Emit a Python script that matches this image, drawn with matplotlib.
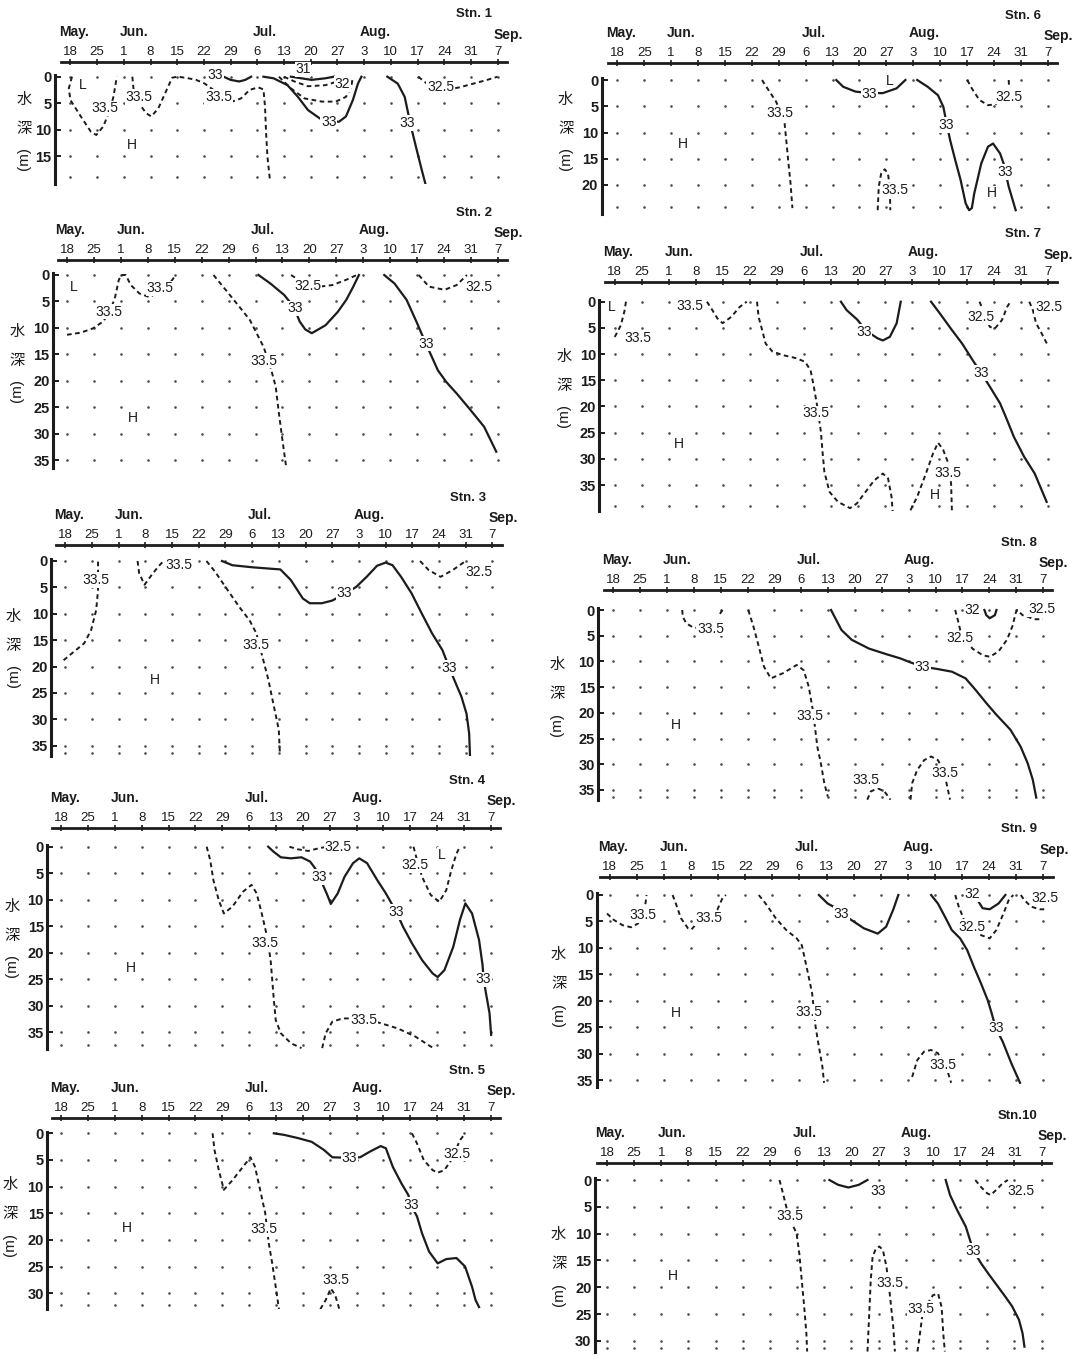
import matplotlib
matplotlib.use("Agg")
import matplotlib.pyplot as plt

plt.rcParams['font.family'] = ['Liberation Sans', 'Noto Sans CJK JP', 'DejaVu Sans']

W, H = 1076, 1356

# x axis: weeks counted from May 18 (0) to Sep 7 (16)
days = [18, 25, 1, 8, 15, 22, 29, 6, 13, 20, 27, 3, 10, 17, 24, 31, 7]
months = ["May.", "Jun.", "Jul.", "Aug.", "Sep."]
month_pos = [0.13, 2.39, 7.29, 11.4, 16.4]

# isohalines per station: (style, weeks, depth m)
stn1_lines = [
    ("--", [0.06, -0.06, 0.0, 0.39, 0.77, 0.97, 1.23, 1.48, 1.61, 1.74], [0, 2.2, 4.4, 7.5, 10.4, 11.0, 9.4, 6.3, 3.8, 0]),
    ("--", [2.32, 2.36, 2.52, 2.84, 3.03, 3.29, 3.55, 3.81, 4.0, 4.32, 4.71, 5.03, 5.5, 6.06, 6.39, 6.71, 7.03, 7.23, 7.29, 7.33, 7.38, 7.48],
           [0, 2.2, 4.7, 6.9, 7.5, 6.0, 3.1, 0.2, 0, 0.2, 0.6, 1.3, 3.0, 4.7, 4.1, 2.5, 2.0, 2.4, 5.7, 10.7, 15.1, 19.8]),
    ("-", [5.74, 6.0, 6.32, 6.55, 6.77], [0, 0.6, 0.9, 0.6, 0]),
    ("-", [7.23, 7.61, 8.13, 8.52, 8.9, 9.35, 9.7, 10.06, 10.32, 10.58, 10.77, 10.9], [0, 0.3, 1.6, 3.8, 6.3, 7.9, 8.4, 8.5, 7.5, 4.4, 1.3, 0]),
    ("-", [8.26, 8.65, 9.03, 9.55, 9.87], [0, 0.3, 0.6, 0.3, 0]),
    ("--", [8.0, 8.39, 8.9, 9.55, 10.0, 10.45], [0, 0.9, 1.8, 1.6, 0.9, 0]),
    ("--", [7.81, 8.26, 8.77, 9.42, 9.94, 10.32, 10.52, 10.58], [0, 2.2, 4.1, 4.7, 4.7, 3.8, 1.9, 0]),
    ("-", [11.87, 12.26, 12.52, 12.65, 12.77, 12.97, 13.16, 13.29], [0, 1.3, 3.8, 6.9, 9.7, 13.8, 17.6, 20.1]),
    ("--", [13.03, 13.35, 13.68, 14.06, 14.58, 15.1, 15.61, 16.0], [0, 1.3, 2.2, 2.5, 2.0, 1.3, 0.6, 0]),
]
stn1_labels = [("L", 0.45, 1.6), ("H", 2.32, 12.9), ("33.5", 1.29, 6.0), ("33.5", 2.58, 3.8), ("33", 5.42, -0.4),
               ("33.5", 5.55, 3.8), ("31", 8.71, -1.4), ("32", 10.19, 1.4), ("33", 9.68, 8.5), ("33", 12.6, 8.7),
               ("32.5", 13.87, 2.0)]

stn2_lines = [
    ("--", [0, 0.51, 0.96, 1.34, 1.6, 1.79, 1.92, 2.01, 2.18, 2.37, 2.69, 3.07, 3.46, 3.9, 4.03],
           [11.3, 10.9, 10.1, 8.8, 6.9, 4.1, 1.0, 0, 0, 1.9, 3.5, 4.2, 3.0, 1.0, 0]),
    ("--", [5.44, 5.89, 6.4, 6.79, 7.04, 7.3, 7.55, 7.75, 7.87, 8.0, 8.13], [0, 2.8, 6.0, 8.5, 11.0, 13.6, 17.3, 21.1, 26.2, 31.2, 36.0]),
    ("-", [7.11, 7.55, 8.07, 8.32, 8.5, 8.64, 8.85, 9.09, 9.6, 10.05, 10.37, 10.63, 10.84],
          [0, 1.6, 3.8, 5.4, 7.0, 8.8, 10.3, 11.0, 9.5, 7.0, 4.7, 2.2, 0]),
    ("--", [8.32, 8.71, 9.22, 9.86, 10.37, 10.76], [0, 1.3, 2.3, 1.9, 0.9, 0]),
    ("-", [11.78, 12.16, 12.61, 13.0, 13.32, 13.77, 14.08, 14.47, 14.98, 15.49, 15.94],
          [0, 1.6, 4.7, 9.1, 12.9, 18.0, 20.2, 22.4, 25.5, 28.7, 33.4]),
    ("--", [13.06, 13.44, 14.02, 14.47, 14.85], [0, 2.2, 2.8, 1.9, 0]),
]
stn2_labels = [("L", 0.26, 2.2), ("H", 2.43, 27.1), ("33.5", 1.54, 6.9), ("33.5", 3.46, 2.5), ("33.5", 7.3, 16.2),
               ("33", 8.48, 6.3), ("32.5", 8.95, 2.0), ("33", 13.32, 13.0), ("32.5", 15.3, 2.2)]

stn3_lines = [
    ("--", [-0.06, 0.32, 0.71, 0.97, 1.16, 1.23, 1.23], [18.8, 17.2, 15.6, 13.1, 9.3, 5.5, 0]),
    ("--", [2.71, 2.77, 2.97, 3.23, 3.48, 3.68], [0, 2.3, 4.5, 2.7, 1.1, 0]),
    ("--", [5.29, 5.61, 6.0, 6.52, 6.9, 7.16, 7.42, 7.61, 7.74, 7.87, 8.0, 8.04],
           [0, 2.0, 4.9, 8.7, 11.2, 13.7, 18.8, 22.5, 25.7, 28.8, 32.0, 36.4]),
    ("-", [5.87, 6.26, 7.03, 8.06, 8.45, 8.9, 9.16, 9.61, 10.0, 10.45, 10.9, 11.29, 11.68, 12.0, 12.26, 12.58, 12.97,
           13.35, 13.74, 14.13, 14.39, 14.58, 14.84, 15.03, 15.13, 15.16],
          [0, 0.8, 1.2, 1.6, 3.6, 7.1, 8.0, 8.0, 7.5, 6.3, 4.9, 3.0, 0.9, 0.3, 0.8, 3.0, 6.1, 9.9, 13.7, 16.9, 20.3,
           22.6, 25.7, 28.9, 32.7, 36.8]),
    ("--", [13.29, 13.61, 14.06, 14.52, 14.97], [0, 1.7, 3.0, 1.7, 0.1]),
]
stn3_labels = [("33.5", 1.16, 3.6), ("33.5", 4.26, 0.8), ("33.5", 7.16, 15.9), ("33", 10.45, 6.1), ("33", 14.39, 20.3),
               ("32.5", 15.48, 2.0), ("H", 3.35, 22.6)]

stn4_lines = [
    ("--", [5.42, 5.55, 5.67, 5.87, 6.06, 6.38, 6.77, 7.09, 7.28, 7.47, 7.67, 7.8, 7.86, 7.92, 7.99, 8.18, 8.56, 8.95],
           [0, 2.5, 6.3, 10.1, 12.6, 11.3, 8.5, 7.2, 8.8, 12.6, 17.0, 21.4, 25.1, 28.9, 32.7, 35.2, 37.1, 38.0]),
    ("--", [9.72, 9.85, 10.1, 10.49, 11.26, 11.9, 12.54, 13.18, 13.76, 13.9], [38.0, 35.2, 33.0, 32.4, 32.4, 33.3, 34.3, 35.8, 37.7, 38.0]),
    ("--", [8.5, 8.82, 9.2, 9.59, 9.91], [0, 0.5, 0.8, 0.3, 0]),
    ("-", [7.71, 7.9, 8.18, 8.56, 8.95, 9.27, 9.46, 9.72, 9.91, 10.04, 10.3, 10.55, 10.87, 11.1, 11.39, 11.77, 12.09,
           12.48, 12.73, 13.06, 13.44, 13.83, 14.02, 14.27, 14.6, 14.85, 15.05, 15.3, 15.56, 15.69, 15.73, 15.82, 15.95, 16.01],
          [0, 0.9, 2.0, 2.2, 2.0, 2.8, 4.1, 6.9, 9.1, 10.8, 8.8, 5.7, 3.1, 2.2, 3.1, 6.3, 8.8, 12.3, 15.1, 18.2, 21.4,
           23.9, 24.6, 23.3, 18.9, 13.8, 10.7, 12.6, 17.6, 22.3, 25.0, 27.7, 31.4, 35.5]),
    ("--", [13.12, 13.25, 13.44, 13.76, 14.08, 14.34, 14.53, 14.72, 14.85], [0, 2.5, 5.7, 9.1, 10.4, 8.2, 4.4, 1.3, 0]),
]
stn4_labels = [("33.5", 7.6, 18.2), ("33.5", 11.26, 32.7), ("32.5", 10.3, 0.1), ("33", 9.59, 5.7), ("33", 12.48, 12.3),
               ("33", 15.73, 25.0), ("32.5", 13.18, 3.5), ("L", 14.17, 1.6), ("H", 2.59, 22.9)]

stn5_lines = [
    ("--", [5.64, 5.71, 5.87, 6.06, 6.38, 6.77, 7.05, 7.22, 7.41, 7.6, 7.73, 7.86, 7.99, 8.11],
           [0, 3.1, 6.9, 10.6, 8.8, 6.3, 4.5, 6.3, 10.6, 15.0, 20.6, 24.4, 28.8, 33.0]),
    ("--", [9.65, 9.85, 10.04, 10.2, 10.36], [33, 31.3, 29.1, 30.3, 33]),
    ("-", [7.92, 8.31, 8.82, 9.33, 9.78, 10.1, 10.74, 11.13, 11.51, 11.9, 12.09, 12.35, 12.67, 12.93, 13.02, 13.25,
           13.44, 13.7, 14.02, 14.34, 14.72, 15.04, 15.3, 15.43, 15.56],
          [0, 0.3, 0.9, 1.6, 3.1, 4.5, 4.6, 4.5, 3.4, 2.4, 2.8, 6.3, 9.4, 11.6, 13.4, 15.6, 18.8, 22.2, 24.4, 23.6,
           23.4, 25.0, 28.8, 31.3, 32.6]),
    ("--", [13.06, 13.25, 13.5, 13.83, 14.02, 14.27, 14.53, 14.85, 15.05], [0, 1.9, 5.0, 6.9, 7.4, 6.9, 5.0, 1.3, 0]),
]
stn5_labels = [("33.5", 7.54, 18.0), ("33.5", 10.23, 27.5), ("33", 10.74, 4.7), ("33", 13.02, 13.4),
               ("32.5", 14.72, 3.8), ("H", 2.46, 17.8)]

stn6_lines = [
    ("--", [5.38, 5.58, 5.9, 6.09, 6.22, 6.28, 6.35, 6.44, 6.51], [0, 1.6, 4.1, 6.3, 8.3, 11.4, 15.2, 19.7, 24.4]),
    ("-", [8.14, 8.4, 8.85, 9.36, 9.87, 10.38, 10.71], [0, 1.3, 2.2, 2.5, 2.5, 1.6, 0]),
    ("-", [11.15, 11.54, 11.92, 12.12, 12.24, 12.37, 12.56, 12.76, 12.95, 13.08, 13.18, 13.27, 13.53, 13.78, 13.97,
           14.23, 14.36, 14.55, 14.81],
          [0, 1.3, 2.9, 5.1, 8.2, 11.4, 15.2, 19.0, 23.5, 24.8, 24.4, 21.6, 15.9, 12.7, 12.1, 14.0, 15.9, 20.3, 24.8]),
    ("--", [13.01, 13.18, 13.46, 13.78, 14.1], [0, 1.6, 3.8, 4.8, 4.6]),
    ("--", [14.55, 14.56], [0, 0.9]),
    ("--", [9.68, 9.72, 9.81, 9.94, 10.06, 10.13, 10.15], [24.8, 20.3, 17.8, 17.0, 17.8, 20.3, 24.8]),
]
stn6_labels = [("33.5", 6.03, 6.3), ("33", 9.36, 2.6), ("L", 10.13, 0.1), ("33", 12.24, 8.6), ("33", 14.42, 17.5),
               ("H", 13.91, 21.6), ("32.5", 14.55, 3.2), ("33.5", 10.32, 21.0), ("H", 2.44, 12.1)]

stn7_lines = [
    ("--", [0.42, 0.36, 0.23, 0.04, -0.03], [0, 1.9, 4.5, 6.4, 7.0]),
    ("--", [3.41, 3.61, 3.8, 3.99, 4.31, 4.62, 4.88], [0, 1.6, 3.2, 4.1, 2.9, 1.0, 0]),
    ("--", [5.26, 5.32, 5.45, 5.58, 5.83, 6.22, 6.73, 7.04, 7.24, 7.36, 7.49, 7.62, 7.68, 7.75, 7.94, 8.25, 8.7, 8.95,
            9.27, 9.59, 9.91, 10.1, 10.23, 10.27],
           [0, 2.9, 5.4, 8.0, 9.5, 10.2, 10.8, 11.5, 13.1, 16.2, 20.1, 24.8, 28.6, 32.5, 36.3, 38.2, 39.4, 38.5, 36.3,
            34.1, 32.8, 33.7, 37.2, 40.0]),
    ("--", [10.93, 11.18, 11.5, 11.76, 11.95, 12.14, 12.31, 12.43, 12.46], [39.8, 37.2, 32.8, 29.0, 26.9, 28.3, 30.6, 34.7, 39.8]),
    ("-", [8.36, 8.57, 8.96, 9.3, 9.72, 9.91, 10.17, 10.42, 10.57], [0, 1.6, 3.4, 5.6, 7.0, 7.4, 6.7, 4.1, 0]),
    ("-", [11.69, 12.01, 12.46, 12.84, 13.22, 13.54, 13.86, 14.24, 14.5, 14.75, 15.13, 15.52, 15.96],
          [0, 2.2, 5.4, 8.0, 11.1, 13.6, 16.2, 19.4, 22.6, 25.8, 29.6, 32.8, 38.2]),
    ("--", [13.48, 13.61, 13.86, 14.05, 14.31, 14.5, 14.62], [0, 1.6, 4.8, 5.1, 3.5, 1.0, 0]),
    ("--", [15.32, 15.45, 15.57, 15.77, 16.0], [0, 1.6, 4.1, 6.0, 8.3]),
]
stn7_labels = [("L", -0.09, 1.0), ("33.5", 0.87, 7.0), ("33.5", 2.78, 0.8), ("33.5", 7.43, 21.3), ("33.5", 12.33, 32.6),
               ("H", 11.82, 36.9), ("33", 9.21, 5.7), ("33", 13.54, 13.6), ("32.5", 13.54, 2.9), ("32.5", 16.03, 1.1),
               ("H", 2.39, 27.2)]

stn8_lines = [
    ("--", [2.57, 2.59, 2.72, 2.98, 3.3], [0, 1.3, 2.6, 3.4, 3.6]),
    ("--", [4.07, 3.94], [0, 1.0]),
    ("--", [5.03, 5.22, 5.42, 5.61, 5.87, 6.32, 6.83, 7.09, 7.28, 7.41, 7.47, 7.6, 7.73, 7.86, 7.99],
           [0, 3.2, 7.1, 11.0, 13.3, 12.3, 10.7, 11.7, 14.9, 18.8, 21.0, 26.6, 29.8, 33.7, 36.3]),
    ("-", [8.11, 8.24, 8.5, 8.88, 9.52, 10.17, 10.68, 11.07, 11.51, 12.09, 12.61, 13.12, 13.5, 13.89, 14.27, 14.79,
           15.17, 15.43, 15.62, 15.75],
          [0, 1.3, 3.9, 5.8, 7.5, 8.6, 9.4, 10.2, 11.0, 11.5, 12.0, 13.3, 15.6, 18.1, 20.4, 23.3, 26.6, 29.8, 33.0, 36.5]),
    ("--", [12.73, 12.8, 12.92, 13.37, 13.76, 14.02, 14.34, 14.66, 14.86, 14.99, 15.04, 15.24, 15.43, 15.68, 16.0],
           [0, 1.3, 3.9, 7.5, 8.8, 9.1, 8.1, 5.8, 3.2, 0.5, 0, 1.0, 1.3, 1.8, 1.8]),
    ("-", [13.82, 13.89, 14.02, 14.21, 14.27], [0, 1.0, 1.6, 1.0, 0]),
    ("--", [9.46, 9.59, 9.85, 10.1, 10.32], [36.9, 35.3, 34.7, 35.3, 36.9]),
    ("--", [11.07, 11.13, 11.32, 11.58, 11.84, 12.09, 12.28, 12.41, 12.54], [36.9, 33.7, 31.1, 29.2, 28.5, 29.2, 31.1, 33.7, 36.9]),
]
stn8_labels = [("33.5", 3.62, 3.6), ("33.5", 7.34, 20.7), ("33", 11.51, 11.0), ("32.5", 12.92, 5.5), ("32", 13.37, 0),
               ("32.5", 15.95, -0.2), ("33.5", 9.4, 33.1), ("33.5", 12.35, 31.8), ("H", 2.34, 22.4)]

stn9_lines = [
    ("--", [-0.1, 0.15, 0.47, 0.79, 1.04, 1.23, 1.32, 1.36], [3.5, 4.7, 5.7, 6.1, 5.4, 3.8, 1.6, 0]),
    ("--", [2.32, 2.44, 2.63, 2.89, 3.02, 3.21, 3.65, 3.97, 4.16, 4.29], [0, 1.6, 4.4, 6.3, 6.5, 5.4, 4.4, 2.8, 0.6, 0]),
    ("--", [5.5, 5.75, 6.13, 6.51, 6.9, 7.09, 7.21, 7.34, 7.47, 7.6, 7.72, 7.85, 7.91],
           [0, 1.6, 4.4, 6.6, 8.2, 9.5, 12.3, 15.4, 18.6, 25.0, 28.7, 32.5, 35.5]),
    ("-", [7.72, 8.04, 8.36, 8.55, 9.0, 9.38, 9.89, 10.2, 10.46, 10.65], [0, 1.6, 2.5, 3.5, 5.0, 6.3, 7.3, 6.0, 2.8, 0]),
    ("-", [11.86, 12.11, 12.37, 12.62, 12.93, 13.19, 13.44, 13.7, 13.95, 14.08, 14.25, 14.5, 14.82, 15.14],
          [0, 1.6, 4.1, 6.6, 8.2, 10.4, 13.6, 16.7, 19.9, 22.1, 25.2, 27.7, 31.8, 35.5]),
    ("--", [12.75, 12.88, 13.13, 13.36, 13.71, 14.02, 14.27, 14.53, 14.72, 14.89], [0, 2.2, 5.4, 6.5, 7.6, 8.2, 6.6, 3.5, 1.0, 0]),
    ("-", [13.57, 13.76, 14.02, 14.35, 14.6], [0.9, 2.5, 2.7, 1.6, 0]),
    ("--", [15.17, 15.29, 15.55, 15.87, 16.06], [0, 0.9, 2.2, 2.7, 2.7]),
    ("--", [11.16, 11.35, 11.6, 11.86, 12.11, 12.3, 12.49, 12.6], [34.4, 31.2, 29.6, 29.3, 29.9, 31.5, 33.7, 35.5]),
]
stn9_labels = [("33.5", 1.23, 3.8), ("33.5", 3.65, 4.4), ("33.5", 7.34, 22.1), ("33", 8.55, 3.5), ("33", 14.25, 25.2),
               ("32.5", 13.36, 6.0), ("32", 13.38, -0.2), ("32.5", 16.06, 0.6), ("33.5", 12.3, 32.2), ("H", 2.44, 22.4)]

stn10_lines = [
    ("--", [6.35, 6.48, 6.63, 6.73, 6.98, 7.08, 7.17, 7.26, 7.34, 7.37], [0, 2.5, 5.6, 7.2, 10.0, 13.7, 18.7, 23.6, 28.6, 32.0]),
    ("-", [8.19, 8.51, 8.89, 9.27, 9.59], [0, 0.9, 1.4, 0.9, 0]),
    ("--", [9.59, 9.65, 9.71, 9.78, 9.9, 10.03, 10.16, 10.29, 10.41, 10.54, 10.6],
           [32.0, 25.5, 18.7, 14.3, 12.8, 12.4, 13.1, 16.2, 21.2, 27.4, 32.0]),
    ("--", [11.43, 11.49, 11.62, 11.81, 12.0, 12.19, 12.32, 12.38, 12.44], [32.0, 29.9, 24.9, 23.0, 21.5, 21.2, 23.7, 28.6, 32.0]),
    ("-", [12.47, 12.63, 12.89, 13.21, 13.49, 13.78, 14.03, 14.35, 14.67, 14.92, 15.17, 15.3, 15.37],
          [0, 2.8, 5.6, 8.7, 13.2, 15.6, 17.4, 19.6, 21.8, 23.6, 26.1, 28.6, 31.1]),
    ("--", [13.56, 13.75, 14.0, 14.13, 14.32, 14.57, 14.76], [0, 1.2, 2.5, 2.8, 1.9, 0.6, 0]),
]
stn10_labels = [("33.5", 6.73, 6.8), ("33", 9.97, 2.0), ("33.5", 10.41, 19.2), ("33.5", 11.56, 24.1), ("33", 13.49, 13.2),
                ("32.5", 15.24, 2.0), ("H", 2.41, 18.0)]

# panel layout in pixels: x0 = May 18 tick, dx = px per week, spine = left axis,
# yline = top axis line, y0 = depth 0, ppm = px per metre, (lx, ly) = 水 position
panels = [
    ("Stn. 1", stn1_lines, stn1_labels, dict(x0=70.4, dx=26.7, spine=54.9, yline=61.7, y0=76.7, ppm=5.3, dmax=20.2, rows=[0, 5, 10, 15, 19], ticks=[0, 5, 10, 15], lx=24, ly=100)),
    ("Stn. 2", stn2_lines, stn2_labels, dict(x0=67.0, dx=26.93, spine=53.2, yline=260, y0=275, ppm=5.29, dmax=36.5, rows=list(range(0, 36, 5)), ticks=list(range(0, 36, 5)), lx=17, ly=331.7)),
    ("Stn. 3", stn3_lines, stn3_labels, dict(x0=65.2, dx=26.7, spine=51.4, yline=545, y0=561, ppm=5.28, dmax=37, rows=list(range(0, 36, 5)) + [36.4], ticks=list(range(0, 36, 5)), lx=13.5, ly=616.7)),
    ("Stn. 4", stn4_lines, stn4_labels, dict(x0=61.1, dx=26.86, spine=47.3, yline=828.3, y0=846.7, ppm=5.3, dmax=38.2, rows=list(range(0, 36, 5)) + [37.5], ticks=list(range(0, 36, 5)), lx=12, ly=906.7)),
    ("Stn. 5", stn5_lines, stn5_labels, dict(x0=61.1, dx=26.86, spine=47.3, yline=1118.3, y0=1133.3, ppm=5.33, dmax=33, rows=list(range(0, 31, 5)) + [32.2], ticks=list(range(0, 31, 5)), lx=10, ly=1185)),
    ("Stn. 6", stn6_lines, stn6_labels, dict(x0=617.3, dx=26.9, spine=601.8, yline=63.3, y0=80, ppm=5.25, dmax=25.5, rows=[0, 5, 10, 15, 20, 24.2], ticks=[0, 5, 10, 15, 20], lx=565.6, ly=100)),
    ("Stn. 7", stn7_lines, stn7_labels, dict(x0=614.6, dx=27.07, spine=599.4, yline=281.7, y0=301.7, ppm=5.24, dmax=40, rows=list(range(0, 36, 5)) + [39], ticks=list(range(0, 36, 5)), lx=564, ly=356.7)),
    ("Stn. 8", stn8_lines, stn8_labels, dict(x0=613.2, dx=26.86, spine=598.3, yline=590, y0=610, ppm=5.14, dmax=37, rows=list(range(0, 36, 5)) + [36.3], ticks=list(range(0, 36, 5)), lx=557, ly=665)),
    ("Stn. 9", stn9_lines, stn9_labels, dict(x0=609.7, dx=27.1, spine=596.6, yline=876.7, y0=895, ppm=5.29, dmax=36.3, rows=list(range(0, 36, 5)), ticks=list(range(0, 36, 5)), lx=558.7, ly=955)),
    ("Stn.10", stn10_lines, stn10_labels, dict(x0=607.0, dx=27.16, spine=594.9, yline=1163.3, y0=1180, ppm=5.36, dmax=32, rows=list(range(0, 31, 5)) + [31.3], ticks=list(range(0, 31, 5)), lx=558.7, ly=1235)),
]

fig = plt.figure(figsize=(W / 100, H / 100), dpi=100)
ink = "#1c1c1c"
XR = 16.35

for name, lines, labels, p in panels:
    xl = (p["spine"] - p["x0"]) / p["dx"]
    dtop = -(p["y0"] - p["yline"]) / p["ppm"]
    left_px = p["spine"]
    right_px = p["x0"] + XR * p["dx"]
    bottom_px = p["y0"] + p["dmax"] * p["ppm"]
    ax = fig.add_axes([left_px / W, 1 - bottom_px / H, (right_px - left_px) / W, (bottom_px - p["yline"]) / H])
    ax.set_xlim(xl, XR)
    ax.set_ylim(p["dmax"], dtop)
    ax.patch.set_alpha(0)

    for s in ["right", "bottom"]:
        ax.spines[s].set_visible(False)
    ax.spines["top"].set_linewidth(2.0)
    ax.spines["top"].set_color(ink)
    ax.spines["top"].set_bounds(-0.35, XR)
    ax.spines["left"].set_linewidth(2.2)
    ax.spines["left"].set_color(ink)
    ax.spines["left"].set_bounds(-0.3, p["dmax"])

    ax.xaxis.tick_top()
    ax.set_xticks(range(17))
    ax.set_xticklabels([str(d) for d in days])
    ax.tick_params(axis="x", direction="inout", length=4, width=1.2, pad=1.0, labelsize=9.5, colors=ink)
    ax.set_yticks(p["ticks"])
    ax.set_yticklabels([str(t) for t in p["ticks"]])
    ax.tick_params(axis="y", direction="in", length=4, width=1.4, pad=2.5, labelsize=10.5, colors=ink)
    for t in ax.get_yticklabels():
        t.set_fontweight("bold")

    for m, mx in zip(months, month_pos):
        dy = 19.5 if m == "Sep." else 21.5
        ax.annotate(m, xy=(mx, 1), xycoords=("data", "axes fraction"), xytext=(0, dy),
                    textcoords="offset points", ha="center", va="center", fontsize=10, fontweight="bold", color=ink)
    ax.annotate(name, xy=(15.1, 1), xycoords=("data", "axes fraction"), xytext=(0, 34),
                textcoords="offset points", ha="center", va="center", fontsize=9.5, fontweight="bold", color=ink)

    # sampling grid
    gx = [i for i in range(17) for _ in p["rows"]]
    gy = [r for _ in range(17) for r in p["rows"]]
    ax.scatter(gx, gy, s=3.5, color="#4a4a4a", linewidths=0, zorder=1)

    for style, xs, ys in lines:
        if style == "-":
            ax.plot(xs, ys, color=ink, lw=1.6, solid_joinstyle="round", zorder=3)
        else:
            ax.plot(xs, ys, color=ink, lw=1.4, linestyle=(0, (2.4, 1.8)), zorder=3)

    for txt, tx, ty in labels:
        ax.text(tx, ty, txt, fontsize=10, ha="center", va="center", color=ink, zorder=5,
                bbox=dict(boxstyle="square,pad=0.05", fc="white", ec="none"))

    # vertical axis title
    fig.text(p["lx"] / W, 1 - p["ly"] / H, "水", fontsize=11, ha="center", va="center", color=ink)
    fig.text(p["lx"] / W, 1 - (p["ly"] + 29) / H, "深", fontsize=11, ha="center", va="center", color=ink)
    fig.text(p["lx"] / W, 1 - (p["ly"] + 59) / H, "(m)", fontsize=11, ha="center", va="center", rotation=90, color=ink)

fig.savefig("out.png", dpi=100, facecolor="white")
